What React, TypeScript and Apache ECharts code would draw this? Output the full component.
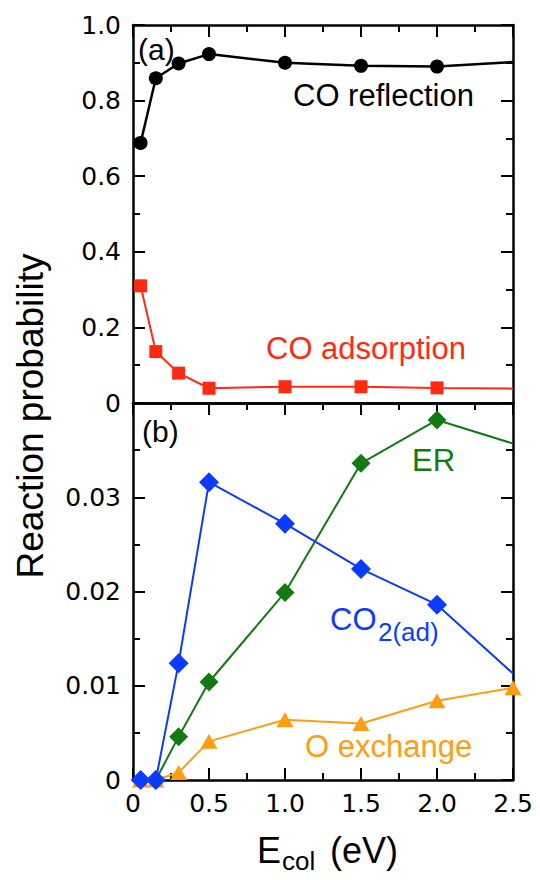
import React, { useEffect, useRef } from "react";
import * as echarts from "echarts";

// Collision energies (eV)
const energies = [0.05, 0.15, 0.3, 0.5, 1.0, 1.5, 2.0, 2.5];

// Panel (a)
const coReflection = [0.688, 0.859, 0.898, 0.923, 0.9, 0.892, 0.89, 0.902];
const coAdsorption = [0.31, 0.136, 0.079, 0.039, 0.043, 0.043, 0.04, 0.038];

// Panel (b)
const erValues = [null, 0, 0.0046, 0.0104, 0.0199, 0.0336, 0.0382, 0.0357];
const co2adValues = [0, 0, 0.0124, 0.0316, 0.0272, 0.0224, 0.0186, 0.0113];
const oExchangeValues = [0, 0, 0.0008, 0.0041, 0.0064, 0.006, 0.0084, 0.0098];

// Tick settings
const xTicks = { min: 0, max: 2.5, interval: 0.5 };
const yTicksA = { min: 0, max: 1.0, interval: 0.2 };
const yTicksB = { min: 0, max: 0.04, interval: 0.01 };

const TICK_FONT = "DejaVu Sans";
const LABEL_FONT = "'Liberation Sans', Arial, Helvetica, sans-serif";

function pairs(values: (number | null)[], hideLastMarker: boolean) {
  return energies.map((x, i) => {
    const v = values[i];
    const item: any = { value: [x, v === null ? "-" : v] };
    if (hideLastMarker && i === energies.length - 1) item.symbol = "none";
    return item;
  });
}

export default function App() {
  const ref = useRef<HTMLDivElement>(null);

  useEffect(() => {
    if (!ref.current) return;
    const chart = echarts.init(ref.current, undefined, { renderer: "svg" });

    const frame = { show: true, onZero: false, lineStyle: { color: "#000", width: 2.5 } };
    const ticksIn = { show: true, inside: true, length: 12, lineStyle: { color: "#000", width: 2 } };
    const minor = { show: true, splitNumber: 2, length: 7, lineStyle: { color: "#000", width: 2 } };
    const noLabel = { show: false };
    const fmtX = (v: number) => (v === 0 ? "0" : v.toFixed(1));

    const xBase = {
      type: "value",
      min: xTicks.min,
      max: xTicks.max,
      interval: xTicks.interval,
      splitLine: { show: false },
      axisLine: frame,
    };
    const yBaseA = {
      type: "value",
      gridIndex: 0,
      min: yTicksA.min,
      max: yTicksA.max,
      interval: yTicksA.interval,
      splitLine: { show: false },
      axisLine: frame,
      axisTick: ticksIn,
      minorTick: minor,
    };
    const yBaseB = {
      type: "value",
      gridIndex: 1,
      min: yTicksB.min,
      max: yTicksB.max,
      interval: yTicksB.interval,
      splitLine: { show: false },
      axisLine: frame,
      axisTick: ticksIn,
      minorTick: minor,
    };

    const tickLabel = {
      color: "#000",
      fontFamily: TICK_FONT,
      fontSize: 25,
    };

    const text = (
      str: string,
      x: number,
      y: number,
      color: string,
      fontSize: number,
      extra: any = {}
    ) => ({
      type: "text",
      x,
      y,
      z: 100,
      style: {
        text: str,
        fill: color,
        font: `${fontSize}px ${LABEL_FONT}`,
        textAlign: "left",
        textVerticalAlign: "middle",
        verticalAlign: "middle",
        ...extra,
      },
    });

    const option: any = {
      animation: false,
      backgroundColor: "#fff",
      grid: [
        { left: 133, top: 25, width: 380, height: 378, containLabel: false },
        { left: 133, top: 403, width: 380, height: 377, containLabel: false },
      ],
      xAxis: [
        { ...xBase, gridIndex: 0, position: "bottom", axisTick: { show: false }, axisLabel: noLabel },
        { ...xBase, gridIndex: 0, position: "top", axisTick: ticksIn, minorTick: minor, axisLabel: noLabel },
        {
          ...xBase,
          gridIndex: 1,
          position: "bottom",
          axisTick: ticksIn,
          minorTick: minor,
          axisLabel: { ...tickLabel, margin: 11, formatter: fmtX },
        },
        { ...xBase, gridIndex: 1, position: "top", axisTick: ticksIn, minorTick: minor, axisLabel: noLabel },
      ],
      yAxis: [
        {
          ...yBaseA,
          position: "left",
          axisLabel: { ...tickLabel, margin: 12, formatter: (v: number) => (v === 0 ? "0" : v.toFixed(1)) },
        },
        { ...yBaseA, position: "right", axisLabel: noLabel },
        {
          ...yBaseB,
          position: "left",
          axisLabel: {
            ...tickLabel,
            margin: 12,
            formatter: (v: number) => (v === 0 ? "0" : Math.abs(v - 0.04) < 1e-9 ? "" : v.toFixed(2)),
          },
        },
        { ...yBaseB, position: "right", axisLabel: noLabel },
      ],
      series: [
        {
          name: "CO reflection",
          type: "line",
          xAxisIndex: 0,
          yAxisIndex: 0,
          data: pairs(coReflection, true),
          symbol: "circle",
          symbolSize: 14,
          lineStyle: { color: "#000", width: 2.5 },
          itemStyle: { color: "#000" },
          clip: false,
          z: 3,
        },
        {
          name: "CO adsorption",
          type: "line",
          xAxisIndex: 0,
          yAxisIndex: 0,
          data: pairs(coAdsorption, true),
          symbol: "rect",
          symbolSize: 13,
          lineStyle: { color: "#ff2a12", width: 2 },
          itemStyle: { color: "#ff2a12" },
          clip: false,
          z: 3,
        },
        {
          name: "O exchange",
          type: "line",
          xAxisIndex: 2,
          yAxisIndex: 2,
          data: pairs(oExchangeValues, false),
          symbol: "triangle",
          symbolSize: [17, 15],
          lineStyle: { color: "#ff9d12", width: 2 },
          itemStyle: { color: "#ff9d12" },
          clip: false,
          z: 2,
        },
        {
          name: "ER",
          type: "line",
          xAxisIndex: 2,
          yAxisIndex: 2,
          data: pairs(erValues, true),
          symbol: "diamond",
          symbolSize: 19,
          lineStyle: { color: "#137a13", width: 2 },
          itemStyle: { color: "#137a13" },
          clip: false,
          z: 3,
        },
        {
          name: "CO2(ad)",
          type: "line",
          xAxisIndex: 2,
          yAxisIndex: 2,
          data: pairs(co2adValues, true),
          symbol: "diamond",
          symbolSize: 20,
          lineStyle: { color: "#0b3bff", width: 2 },
          itemStyle: { color: "#0b3bff" },
          clip: false,
          z: 4,
        },
      ],
      graphic: [
        text("(a)", 138, 49, "#000", 30),
        text("CO reflection", 293, 95, "#000", 31),
        text("CO adsorption", 266, 348, "#ff2a12", 31),
        text("(b)", 142, 431, "#000", 30),
        text("ER", 412, 460, "#137a13", 31),
        text("CO", 330, 619, "#0b3bff", 31),
        text("2(ad)", 378, 632, "#0b3bff", 26),
        text("O exchange", 305, 746, "#ff9d12", 31),
        text("E", 257, 850, "#000", 36),
        text("col", 282, 861, "#000", 26),
        text("(eV)", 330, 850, "#000", 36),
        {
          type: "text",
          x: 30,
          y: 416,
          rotation: Math.PI / 2,
          z: 100,
          style: {
            text: "Reaction probability",
            fill: "#000",
            font: `37px ${LABEL_FONT}`,
            textAlign: "center",
            textVerticalAlign: "middle",
            verticalAlign: "middle",
          },
        },
      ],
    };

    chart.setOption(option);
    return () => chart.dispose();
  }, []);

  return (
    <div
      ref={ref}
      style={{ position: "fixed", left: 0, top: 0, width: 540, height: 880, background: "#fff" }}
    />
  );
}
